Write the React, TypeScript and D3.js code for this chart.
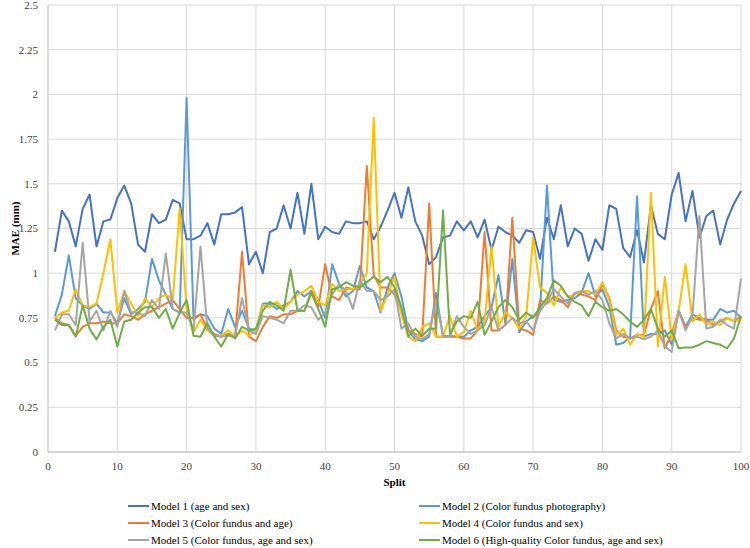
import React from 'react'
import * as d3 from 'd3'

const splits = d3.range(1, 101)

const model1 = [
  1.12, 1.35, 1.29, 1.15, 1.36, 1.44, 1.15, 1.29, 1.30, 1.42,
  1.49, 1.39, 1.16, 1.12, 1.33, 1.28, 1.30, 1.41, 1.39, 1.19,
  1.19, 1.21, 1.28, 1.16, 1.33, 1.33, 1.34, 1.37, 1.05, 1.12,
  1.00, 1.23, 1.25, 1.38, 1.25, 1.45, 1.22, 1.50, 1.19, 1.26,
  1.23, 1.22, 1.29, 1.28, 1.28, 1.29, 1.19, 1.26, 1.35, 1.45,
  1.31, 1.48, 1.29, 1.21, 1.05, 1.09, 1.20, 1.21, 1.29, 1.24,
  1.29, 1.20, 1.30, 1.13, 1.26, 1.23, 1.21, 1.17, 1.24, 1.23,
  1.08, 1.31, 1.19, 1.38, 1.15, 1.25, 1.22, 1.07, 1.19, 1.13,
  1.38, 1.36, 1.14, 1.09, 1.24, 1.06, 1.38, 1.22, 1.19, 1.44,
  1.56, 1.29, 1.46, 1.20, 1.32, 1.35, 1.16, 1.30, 1.39, 1.46,
]

const model2 = [
  0.76, 0.88, 1.10, 0.86, 0.82, 0.80, 0.83, 0.78, 0.78, 0.72,
  0.86, 0.77, 0.80, 0.84, 1.08, 0.96, 0.88, 0.80, 0.78, 1.98,
  0.74, 0.77, 0.76, 0.69, 0.66, 0.80, 0.70, 0.79, 0.69, 0.68,
  0.83, 0.83, 0.80, 0.82, 0.84, 0.90, 0.87, 0.90, 0.85, 0.75,
  1.05, 0.94, 0.87, 0.90, 1.04, 0.92, 0.90, 0.78, 0.92, 1.00,
  0.87, 0.68, 0.63, 0.62, 0.645, 0.89, 0.645, 0.645, 0.645, 0.645,
  0.68, 0.70, 0.76, 0.81, 0.99, 0.72, 1.08, 0.67, 0.73, 0.76,
  0.79, 1.49, 0.85, 0.84, 0.85, 0.86, 0.89, 1.00, 0.87, 0.91,
  0.81, 0.60, 0.61, 0.645, 1.43, 0.645, 0.66, 0.66, 0.68, 0.60,
  0.79, 0.70, 0.77, 0.75, 0.74, 0.74, 0.80, 0.78, 0.79, 0.75,
]

const model3 = [
  0.75, 0.72, 0.71, 0.65, 0.70, 0.72, 0.72, 0.73, 0.72, 0.72,
  0.77, 0.76, 0.74, 0.77, 0.79, 0.81, 0.83, 0.85, 0.80, 0.75,
  0.75, 0.77, 0.69, 0.66, 0.645, 0.66, 0.645, 1.12, 0.645, 0.62,
  0.70, 0.76, 0.75, 0.77, 0.77, 0.79, 0.79, 0.90, 0.81, 1.05,
  0.87, 0.85, 0.92, 0.91, 0.91, 1.60, 0.99, 0.92, 0.92, 0.88,
  0.79, 0.68, 0.66, 0.645, 1.39, 0.645, 0.645, 0.65, 0.645, 0.635,
  0.635, 0.68, 1.23, 0.68, 0.68, 0.71, 1.31, 0.69, 0.68, 0.655,
  0.85, 0.83, 0.87, 0.85, 0.81, 0.89, 0.88, 0.87, 0.85, 0.94,
  0.86, 0.68, 0.645, 0.635, 0.655, 0.655, 0.80, 0.90, 0.58, 0.66,
  0.79, 0.70, 0.75, 0.74, 0.74, 0.71, 0.73, 0.75, 0.73, 0.76,
]

const model4 = [
  0.75, 0.78, 0.79, 0.91, 0.82, 0.81, 0.83, 1.00, 1.19, 0.78,
  0.90, 0.83, 0.76, 0.86, 0.81, 0.86, 0.88, 0.85, 1.36, 0.80,
  0.67, 0.74, 0.68, 0.65, 0.65, 0.68, 0.645, 0.68, 0.65, 0.68,
  0.82, 0.81, 0.84, 0.80, 0.84, 0.88, 0.90, 0.93, 0.84, 0.82,
  0.94, 0.90, 0.91, 0.91, 0.94, 1.00, 1.87, 0.79, 0.88, 0.98,
  0.77, 0.645, 0.62, 0.70, 0.72, 0.645, 0.645, 0.76, 0.645, 0.67,
  0.79, 0.68, 0.73, 1.15, 0.70, 0.78, 0.75, 0.69, 0.76, 1.20,
  0.92, 0.89, 0.82, 0.92, 0.87, 0.88, 0.90, 0.90, 0.88, 0.95,
  0.85, 0.655, 0.69, 0.60, 0.66, 0.645, 1.45, 0.59, 0.98, 0.63,
  0.79, 1.05, 0.73, 0.77, 0.71, 0.73, 0.71, 0.75, 0.73, 0.74,
]

const model5 = [
  0.68, 0.77, 0.77, 0.71, 1.17, 0.73, 0.79, 0.68, 0.79, 0.70,
  0.90, 0.78, 0.78, 0.76, 0.85, 0.80, 1.11, 0.80, 0.78, 0.78,
  0.68, 1.15, 0.69, 0.65, 0.645, 0.65, 0.645, 0.86, 0.68, 0.66,
  0.76, 0.75, 0.74, 0.72, 0.79, 0.79, 0.82, 0.81, 0.74, 0.78,
  0.88, 0.94, 0.90, 0.80, 0.96, 0.90, 0.90, 0.85, 0.87, 0.91,
  0.69, 0.72, 0.645, 0.63, 0.66, 0.85, 0.65, 0.645, 0.76, 0.70,
  0.66, 0.68, 0.71, 0.81, 0.68, 0.71, 0.75, 0.72, 0.73, 0.68,
  0.79, 0.84, 0.91, 0.87, 0.83, 0.89, 0.90, 0.88, 0.90, 0.85,
  0.72, 0.635, 0.66, 0.635, 0.645, 0.63, 0.645, 0.68, 0.59, 0.56,
  0.79, 0.68, 0.76, 1.32, 0.69, 0.70, 0.74, 0.71, 0.69, 0.97,
]

const model6 = [
  0.74, 0.71, 0.71, 0.645, 0.82, 0.69, 0.63, 0.70, 0.74, 0.59,
  0.73, 0.74, 0.78, 0.81, 0.81, 0.75, 0.80, 0.69, 0.78, 0.85,
  0.65, 0.645, 0.72, 0.645, 0.59, 0.66, 0.635, 0.70, 0.68, 0.69,
  0.79, 0.84, 0.82, 0.79, 1.02, 0.79, 0.79, 0.89, 0.80, 0.70,
  0.91, 0.92, 0.95, 0.93, 0.92, 0.95, 0.98, 0.95, 0.98, 0.92,
  0.81, 0.645, 0.69, 0.65, 0.69, 0.69, 1.35, 0.66, 0.73, 0.76,
  0.75, 0.84, 0.655, 0.73, 0.81, 0.85, 0.81, 0.74, 0.78, 0.75,
  0.81, 0.86, 0.96, 0.93, 0.87, 0.84, 0.82, 0.76, 0.84, 0.81,
  0.79, 0.80, 0.77, 0.73, 0.70, 0.74, 0.80, 0.69, 0.645, 0.68,
  0.58, 0.585, 0.585, 0.60, 0.62, 0.61, 0.60, 0.58, 0.635, 0.76,
]

const seriesNames = [
  'Model 1 (age and sex)',
  'Model 2 (Color fundus photography)',
  'Model 3 (Color fundus and age)',
  'Model 4 (Color fundus and sex)',
  'Model 5 (Color fundus, age and sex)',
  'Model 6 (High-quality Color fundus, age and sex)',
]
const seriesValues = [model1, model2, model3, model4, model5, model6]
const seriesColors = ['#4472C4', '#5B9BD5', '#ED7D31', '#FFC000', '#A5A5A5', '#70AD47']

const yTicks = d3.range(0, 2.51, 0.25)
const xTicks = d3.range(0, 101, 10)

const W = 750
const H = 548
const plot = { left: 48, right: 741, top: 5, bottom: 452 }
const font = '"Liberation Serif", "Times New Roman", serif'

export default function App() {
  const x = d3.scaleLinear().domain([0, 100]).range([plot.left, plot.right])
  const y = d3.scaleLinear().domain([0, 2.5]).range([plot.bottom, plot.top])
  const line = d3
    .line<number>()
    .x((_, i) => x(splits[i]))
    .y((d) => y(d))

  return (
    <svg
      width={W}
      height={H}
      style={{ position: 'absolute', left: 0, top: 0, background: '#fff' }}
      fontFamily={font}
    >
      {/* grid */}
      {yTicks.map((t) => (
        <line key={'gy' + t} x1={plot.left} x2={plot.right} y1={y(t)} y2={y(t)} stroke="#d9d9d9" strokeWidth={1} />
      ))}
      {xTicks.slice(1).map((t) => (
        <line key={'gx' + t} x1={x(t)} x2={x(t)} y1={plot.top} y2={plot.bottom} stroke="#d9d9d9" strokeWidth={1} />
      ))}
      <line x1={plot.left} x2={plot.left} y1={plot.top} y2={plot.bottom} stroke="#bfbfbf" />
      <line x1={plot.left} x2={plot.right} y1={plot.bottom} y2={plot.bottom} stroke="#bfbfbf" />

      {/* tick labels */}
      {yTicks.map((t) => (
        <text key={'ty' + t} x={38} y={y(t)} dy="0.35em" textAnchor="end" fontSize={11} fill="#404040">
          {d3.format('~g')(t)}
        </text>
      ))}
      {xTicks.map((t) => (
        <text key={'tx' + t} x={x(t)} y={466} dy="0.35em" textAnchor="middle" fontSize={11} fill="#404040">
          {t}
        </text>
      ))}
      <text
        transform={`translate(15,${(plot.top + plot.bottom) / 2}) rotate(-90)`}
        textAnchor="middle"
        dy="0.35em"
        fontSize={11}
        fontWeight="bold"
        fill="#000"
      >
        MAE (mm)
      </text>
      <text x={(plot.left + plot.right) / 2} y={482} dy="0.35em" textAnchor="middle" fontSize={11} fontWeight="bold" fill="#000">
        Split
      </text>

      {/* series */}
      {seriesValues.map((vals, k) => (
        <path key={'s' + k} d={line(vals) || ''} fill="none" stroke={seriesColors[k]} strokeWidth={2} strokeLinejoin="round" />
      ))}

      {/* legend */}
      {seriesNames.map((name, k) => {
        const col = k % 2
        const row = Math.floor(k / 2)
        const lx = col === 0 ? 128 : 419
        const ly = 506 + row * 17
        return (
          <g key={'l' + k}>
            <line x1={lx} x2={lx + 21} y1={ly} y2={ly} stroke={seriesColors[k]} strokeWidth={2} />
            <text x={lx + 23} y={ly} dy="0.35em" fontSize={11} fill="#000">
              {name}
            </text>
          </g>
        )
      })}
    </svg>
  )
}
